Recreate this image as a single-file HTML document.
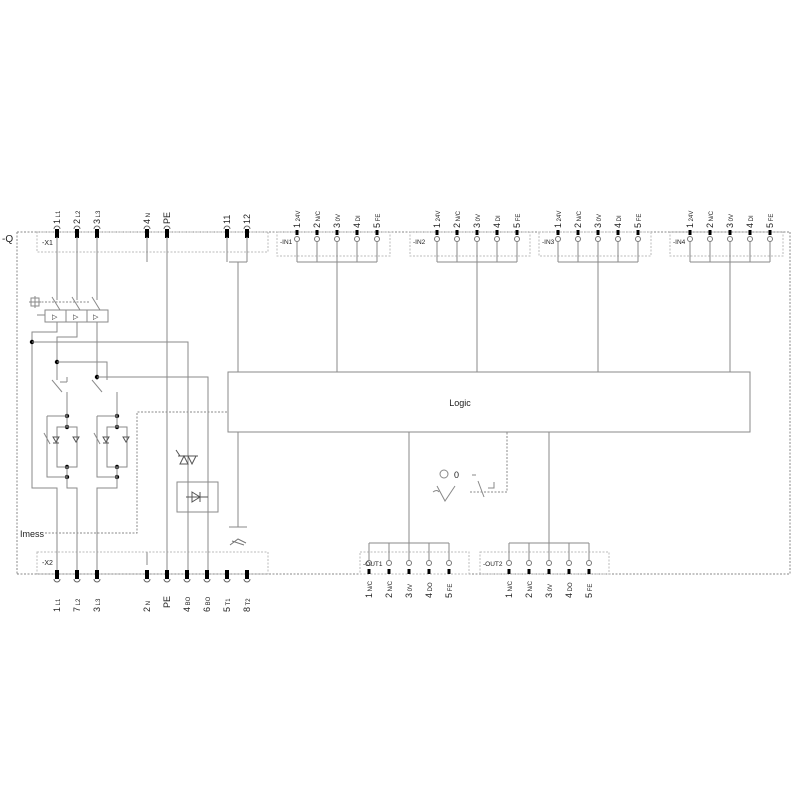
<!DOCTYPE html>
<html><head><meta charset="utf-8"><style>
body{margin:0;background:#fff;width:800px;height:800px;overflow:hidden}
svg{display:block}
text{font-family:"Liberation Sans",sans-serif;fill:#222}
</style></head><body>
<svg id="s" width="800" height="800" viewBox="0 0 800 800" xmlns="http://www.w3.org/2000/svg">
<g stroke="#8a8a8a" stroke-width="1" fill="none" id="g"></g>
<g id="t"></g>
</svg>
<script>
var g=document.getElementById('g'),t=document.getElementById('t'),h='',th='';
function L(x1,y1,x2,y2,d){h+='<line x1="'+x1+'" y1="'+y1+'" x2="'+x2+'" y2="'+y2+'"'+(d?' stroke-dasharray="2,1.5"':'')+'/>';}
function P(pts,d){h+='<polyline points="'+pts+'"'+(d?' stroke-dasharray="2,1.5"':'')+'/>';}
function R(x,y,w,hh,d){h+='<rect x="'+x+'" y="'+y+'" width="'+w+'" height="'+hh+'"'+(d?' stroke="#bbb" stroke-dasharray="2,1.5"':'')+'/>';}
function Dot(x,y){h+='<circle cx="'+x+'" cy="'+y+'" r="2.2" fill="#000" stroke="none"/>';}
function T(x,y,s,fs,a){th+='<text x="'+x+'" y="'+y+'" font-size="'+fs+'"'+(a?' text-anchor="'+a+'"':'')+'>'+s+'</text>';}
function TR(x,y,big,small){th+='<text transform="translate('+x+','+y+') rotate(-90)" font-size="9">'+big+(small?'<tspan font-size="6"> '+small+'</tspan>':'')+'</text>';}
function pinTop(x,y){h+='<path d="M'+(x-3)+','+(y-4)+' a3,3 0 0 1 6,0" stroke="#666"/>';h+='<rect x="'+(x-2)+'" y="'+(y-4)+'" width="4" height="9" fill="#000" stroke="none"/>';}
function pinBot(x,y){h+='<path d="M'+(x-3)+','+(y+4)+' a3,3 0 0 0 6,0" stroke="#666"/>';h+='<rect x="'+(x-2)+'" y="'+(y-5)+'" width="4" height="9" fill="#000" stroke="none"/>';}
P('17,232 790,232',1);P('17,574 790,574',1);L(17,232,17,574,1);L(790,232,790,574,1);
T(2,242,'-Q',10);
R(37,232,231,20,1);T(42,245,'-X1',7);
var x1=[[57,'1','L1'],[77,'2','L2'],[97,'3','L3'],[147,'4','N'],[167,'PE',''],[227,'11',''],[247,'12','']];
x1.forEach(function(p){pinTop(p[0],233);TR(p[0]+3,224,p[1],p[2]);});
R(37,552,231,22,1);T(42,565,'-X2',7);
var x2=[[57,'1','L1'],[77,'7','L2'],[97,'3','L3'],[147,'2','N'],[167,'PE',''],[187,'4','BO'],[207,'6','BO'],[227,'5','T1'],[247,'8','T2']];
x2.forEach(function(p){pinBot(p[0],575);TR(p[0]+3,p[1]=='PE'?608:612,p[1],p[2]);});
var ins=[[277,297,'-IN1'],[410,437,'-IN2'],[539,558,'-IN3'],[670,690,'-IN4']];
var lab=[['1','24V'],['2','N/C'],['3','0V'],['4','DI'],['5','FE']];
ins.forEach(function(b){R(b[0],232,b[1]+93-b[0],24,1);T(b[0]+3,244,b[2],6.5);
 for(var i=0;i<5;i++){var x=b[1]+i*20;h+='<rect x="'+(x-1.5)+'" y="230" width="3" height="5" fill="#000" stroke="none"/>';h+='<circle cx="'+x+'" cy="239" r="2.5" stroke="#777" fill="#fff"/>';L(x,242,x,262);TR(x+3,228,lab[i][0],lab[i][1]);}
 L(b[1],262,b[1]+80,262);L(b[1]+40,262,b[1]+40,372);});
var outs=[[360,369,'-OUT1'],[480,509,'-OUT2']];
var ol=[['1','N/C'],['2','N/C'],['3','0V'],['4','DO'],['5','FE']];
outs.forEach(function(b){R(b[0],552,b[1]+100-b[0],22,1);T(b[0]+3,566,b[2],6.5);
 for(var i=0;i<5;i++){var x=b[1]+i*20;h+='<circle cx="'+x+'" cy="563" r="2.5" stroke="#777" fill="#fff"/>';h+='<rect x="'+(x-1.5)+'" y="569" width="3" height="5" fill="#000" stroke="none"/>';L(x,543,x,560);TR(x+3,598,ol[i][0],ol[i][1]);}
 L(b[1],543,b[1]+80,543);L(b[1]+40,432,b[1]+40,543);});
R(228,372,522,60);T(460,406,'Logic',9,'middle');
L(147,237,147,262);L(147,552,147,565);L(167,237,167,570);
L(227,237,227,262);L(247,237,247,262);L(229,262,247,262);L(238,262,238,372);
L(238,432,238,527);L(229,527,247,527);
h+='<path d="M230,545 l8,-6 l8,4 M232,541 l12,4" stroke="#777"/>';
L(57,237,57,300);L(77,237,77,300);L(97,237,97,300);
P('52,297 60,310');P('72,297 80,310');P('92,297 100,310');L(38,302,90,302,1);
R(31,298,8,8);L(35,296,35,308);L(29,302,41,302);
R(45,310,63,12);L(66,310,66,322);L(87,310,87,322);
T(52,319,'▷',7);T(73,319,'▷',7);T(93,319,'▷',7);L(37,315,45,315);
P('57,322 57,332 32,332 32,488 57,488 57,570');
P('77,322 77,337 57,337 57,380');
P('97,322 97,380');
Dot(32,342);P('32,342 188,342 188,570');
Dot(57,362);P('57,362 107,362 107,380');
Dot(97,377);P('97,377 208,377 208,570');
P('67,377 67,382');
L(52,380,62,392);L(92,380,102,392);L(60,382,67,382);
function bridge(x){
 Dot(x,416);Dot(x,427);Dot(x,467);Dot(x,477);
 L(x,392,x,416);L(x,416,x,427);P((x-20)+',416 '+(x-20)+',477 '+x+',477');P(x+',416 '+(x-20)+',416');
 R(x-10,427,20,40);
 h+='<path d="M'+(x-14)+',437 l3,5 l3,-5 z M'+(x-14)+',443 h6 M'+(x+6)+',437 l3,5 l3,-5 z M'+(x+6)+',437 h6" stroke="#555"/>';
 L(x-23,433,x-17,444);L(x,467,x,477);
}
bridge(67);bridge(117);
P('67,477 67,488 77,488 77,570');
P('117,477 117,488 97,488 97,570');
L(67,392,67,402);L(117,392,117,402);
P('45,533 137,533 137,412 228,412',1);T(20,537,'Imess',9);
h+='<path d="M180,464 l4,-8 l4,8 z M188,456 l4,8 l4,-8 M178,456 h20 M176,450 l4,6" stroke="#555"/>';
R(177,482,41,30);h+='<path d="M192,492 l8,5 l-8,5 z M200,492 v10 M186,497 h22" stroke="#555"/>';
h+='<circle cx="444" cy="474" r="4" stroke="#888"/>';T(454,478,'0',9);
h+='<path d="M437,486 l8,15 l10,-15 M433,492 q4,-3 6,0 M478,481 l6,16 M472,475 h4 M488,488 h6 v-6" stroke="#888"/>';
P('470,492 507,492 507,432',1);
g.innerHTML=h;t.innerHTML=th;
</script>
</body></html>
